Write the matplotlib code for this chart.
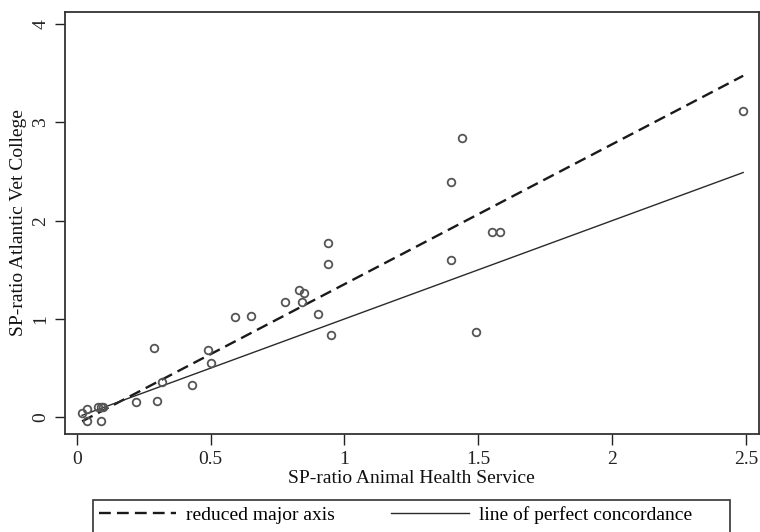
import numpy as np
import matplotlib
matplotlib.use("Agg")
import matplotlib.pyplot as plt
from matplotlib.lines import Line2D
from matplotlib.patches import Rectangle

# SP-ratios per herd
sp_ahs = [0.02, 0.04, 0.04, 0.08, 0.09, 0.09, 0.10, 0.22, 0.30, 0.32,
          0.43, 0.50, 0.29, 0.49, 0.59, 0.65, 0.78, 0.83, 0.84, 0.85,
          0.90, 0.94, 0.94, 0.95, 1.40, 1.40, 1.44, 1.49, 1.55, 1.58, 2.49]
sp_avc = [0.04, 0.08, -0.04, 0.10, 0.10, -0.04, 0.10, 0.16, 0.17, 0.36,
          0.33, 0.55, 0.70, 0.68, 1.02, 1.03, 1.17, 1.30, 1.17, 1.26,
          1.05, 1.77, 1.56, 0.84, 2.39, 1.60, 2.84, 0.87, 1.88, 1.89, 3.12]
xticks = [0, 0.5, 1, 1.5, 2, 2.5]
xticklabels = ["0", "0.5", "1", "1.5", "2", "2.5"]
yticks = [0, 1, 2, 3, 4]

plt.rcParams['font.family'] = ['Liberation Serif', 'DejaVu Serif']

x = np.array(sp_ahs)
y = np.array(sp_avc)

# reduced major axis: slope = sd(y)/sd(x), through the means
slope = np.std(y) / np.std(x)
intercept = y.mean() - slope * x.mean()
xl = np.array([x.min(), x.max()])

dash = (0, (5, 2.6))

fig = plt.figure(figsize=(7.6, 5.32), dpi=100)
ax = fig.add_axes([0.0851, 0.1842, 0.9132, 0.7938])

ax.plot(xl, intercept + slope * xl, color="#1a1a1a", lw=1.7, linestyle=dash)
ax.plot(xl, xl, color="#2a2a2a", lw=1.0)
ax.plot(x, y, linestyle="none", marker="o", markersize=5.5,
        markerfacecolor="none", markeredgecolor="#555555", markeredgewidth=1.3)

ax.set_xlim(-0.045, 2.548)
ax.set_ylim(-0.17, 4.126)
ax.set_xticks(xticks)
ax.set_xticklabels(xticklabels)
ax.set_yticks(yticks)
ax.tick_params(axis="y", labelrotation=90, length=7, width=1, colors="#222222",
               labelsize=14, pad=4)
ax.tick_params(axis="x", length=8, width=1, colors="#222222", labelsize=14,
               pad=4)
for lbl in ax.get_yticklabels():
    lbl.set_va("center")
for s in ax.spines.values():
    s.set_linewidth(1.3)
    s.set_color("#333333")

ax.set_xlabel("SP-ratio Animal Health Service", fontsize=14, color="#111111",
              labelpad=2)
ax.set_ylabel("SP-ratio Atlantic Vet College", fontsize=14, color="#111111",
              labelpad=4)

handles = [Line2D([], [], color="#1a1a1a", lw=1.7, linestyle=dash),
           Line2D([], [], color="#2a2a2a", lw=1.0)]
leg = fig.legend(handles, ["reduced major axis", "line of perfect concordance"],
                 loc="upper left", bbox_to_anchor=(0.122, 0.060),
                 ncol=2, fontsize=14, frameon=False,
                 handlelength=4.0, handletextpad=0.5, columnspacing=2.9,
                 borderaxespad=0, borderpad=0.3)

# legend box runs off the bottom edge, as in the original
fig.patches.append(Rectangle((0.122, -0.05), 0.8385, 0.110,
                             transform=fig.transFigure, fill=False,
                             edgecolor="#333333", linewidth=1.2))

fig.savefig("out.png", dpi=100)
